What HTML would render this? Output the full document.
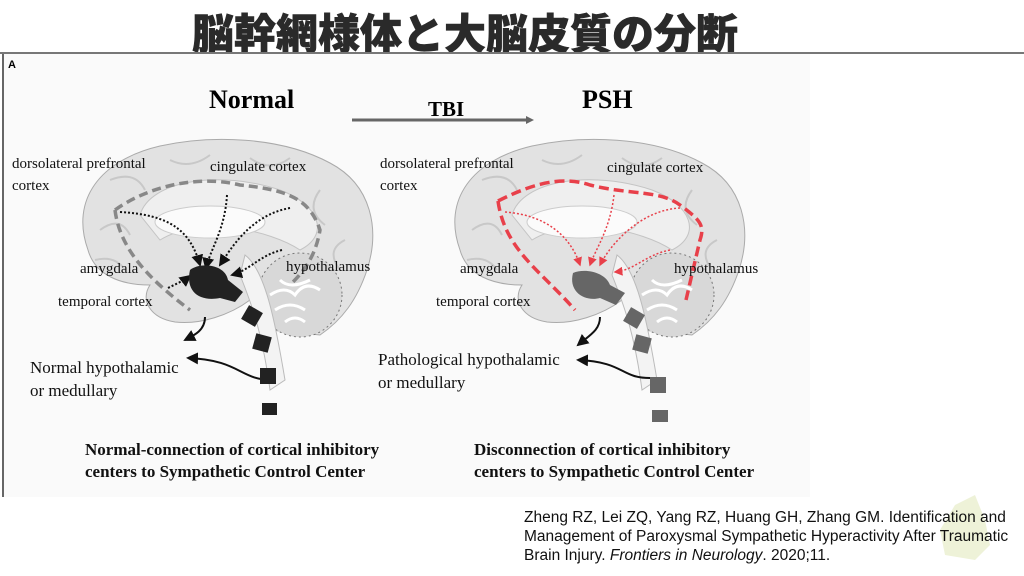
<!DOCTYPE html>
<html><head><meta charset="utf-8"><style>
body{margin:0;width:1024px;height:576px;background:#fff;overflow:hidden;position:relative;font-family:"Liberation Sans","Noto Sans CJK JP",sans-serif}
.t{position:absolute;left:0;width:930px;top:1px;text-align:center;font-size:42px;font-weight:900;color:#2a2a2a;font-family:"Liberation Sans","Noto Sans CJK JP",sans-serif;letter-spacing:0px;-webkit-text-stroke:0.6px #2a2a2a}
.cite{position:absolute;left:524px;top:508px;font-size:15.5px;line-height:19px;color:#111;width:495px}
</style></head><body>
<div class="t">脳幹網様体と大脳皮質の分断</div>
<svg width="1024" height="576" style="position:absolute;left:0;top:0" font-family="Liberation Serif, serif">
<defs>
<marker id="ab" markerWidth="6" markerHeight="6" refX="5" refY="3" orient="auto"><path d="M0,0 L6,3 L0,6Z" fill="#111"/></marker>
<marker id="ar" markerWidth="6" markerHeight="6" refX="5" refY="3" orient="auto"><path d="M0,0 L6,3 L0,6Z" fill="#e8404a"/></marker>
<g id="brain">
<path d="M88,250 C70,200 100,160 160,146 C210,135 280,136 330,163 C372,185 380,230 367,270 C357,300 342,320 320,335 L270,330 L250,300 C230,315 200,325 175,322 C150,318 140,300 150,285 C120,285 95,275 88,250Z" fill="#e2e2e2" stroke="#aaa"/>
<path d="M100,230 q20,-15 30,5 M110,180 q25,-10 35,10 M170,160 q20,10 40,-5 M250,158 q20,15 40,0 M320,190 q-15,20 5,35 M345,240 q-20,10 -5,30 M95,260 q20,-5 30,10" stroke="#c8c8c8" stroke-width="2" fill="none"/>
<path d="M140,215 C150,180 220,170 280,190 C320,205 330,235 300,250 C270,230 200,215 160,240Z" fill="#efefef" stroke="#c4c4c4"/>
<ellipse cx="210" cy="222" rx="55" ry="16" fill="#fbfbfb" stroke="#ccc"/>
<circle cx="300" cy="295" r="42" fill="#d8d8d8" stroke="#777" stroke-dasharray="2 3"/>
<path d="M270,295 q15,-10 25,0 q10,-15 25,-5 M275,310 q15,-10 30,0 M280,280 q10,10 30,0 M285,322 q10,-8 20,0" stroke="#fff" stroke-width="3" fill="none"/>
<path d="M245,255 C265,270 275,320 285,380 L270,390 C262,330 250,300 240,275Z" fill="#f3f3f3" stroke="#bbb"/>
</g>
</defs>
<rect x="0" y="52" width="1024" height="2" fill="#777"/>
<rect x="2" y="54" width="808" height="443" fill="#fafafa"/>
<rect x="2" y="54" width="2" height="443" fill="#666"/>
<text x="8" y="68" font-family="Liberation Sans, sans-serif" font-size="11" font-weight="bold">A</text>
<text x="209" y="108" font-size="26" font-weight="bold">Normal</text>
<text x="428" y="116" font-size="21" font-weight="bold">TBI</text>
<text x="582" y="108" font-size="26" font-weight="bold">PSH</text>
<line x1="352" y1="120" x2="530" y2="120" stroke="#666" stroke-width="3"/>
<path d="M526,116 L534,120 L526,124Z" fill="#666"/>

<use href="#brain"/>
<use href="#brain" x="372"/>

<g fill="none">
<path d="M115,210 C150,185 200,175 240,185 C290,190 310,200 320,230 C315,260 300,275 290,285" stroke="#888" stroke-width="3.5" stroke-dasharray="9 5"/>
<path d="M115,210 C120,250 150,280 190,310" stroke="#888" stroke-width="3.5" stroke-dasharray="9 5"/>
<g stroke="#111" stroke-width="2" stroke-dasharray="2 2" marker-end="url(#ab)">
<path d="M120,212 C170,215 190,230 200,265"/>
<path d="M227,195 C225,230 210,250 206,268"/>
<path d="M290,208 C250,215 230,250 220,265"/>
<path d="M282,250 C260,255 250,270 232,275"/>
<path d="M168,288 C180,282 185,280 190,276"/>
</g>
<path d="M205,317 C205,330 195,335 185,340" stroke="#111" stroke-width="2" marker-end="url(#ab)"/>
<path d="M272,380 C240,380 240,360 188,358" stroke="#111" stroke-width="2" marker-end="url(#ab)"/>
</g>
<path d="M190,270 C200,262 225,264 228,280 L243,292 L235,302 L220,298 C200,302 185,292 190,270Z" fill="#222"/>
<g fill="#222">
<rect x="244" y="308" width="16" height="16" transform="rotate(30 252 316)"/>
<rect x="254" y="335" width="16" height="16" transform="rotate(15 262 343)"/>
<rect x="260" y="368" width="16" height="16"/>
<rect x="262" y="403" width="15" height="12"/>
</g>

<g fill="none" stroke="#e8404a">
<path d="M498,201 C530,185 560,175 590,185 C630,195 660,190 680,205 C700,220 705,225 700,240 L686,300" stroke-width="3.5" stroke-dasharray="10 5"/>
<path d="M498,201 C505,250 540,270 575,310" stroke-width="3.5" stroke-dasharray="10 5"/>
<g stroke-width="1.5" stroke-dasharray="2 2" marker-end="url(#ar)">
<path d="M505,212 C545,215 570,235 580,265"/>
<path d="M614,195 C610,230 595,250 590,265"/>
<path d="M680,208 C640,210 610,245 600,265"/>
<path d="M670,250 C645,255 635,270 615,272"/>
</g>
</g>
<g fill="none" stroke="#111" stroke-width="2" marker-end="url(#ab)">
<path d="M600,317 C600,330 590,335 578,345"/>
<path d="M650,378 C620,378 625,362 578,360"/>
</g>
<path d="M573,273 C585,268 605,272 610,285 L625,293 L616,305 L600,298 C585,302 568,292 573,273Z" fill="#666"/>
<g fill="#666">
<rect x="626" y="310" width="16" height="16" transform="rotate(30 634 318)"/>
<rect x="634" y="336" width="16" height="16" transform="rotate(15 642 344)"/>
<rect x="650" y="377" width="16" height="16"/>
<rect x="652" y="410" width="16" height="12"/>
</g>

<g font-size="15" fill="#111">
<text x="12" y="168">dorsolateral prefrontal</text><text x="12" y="190">cortex</text>
<text x="210" y="171">cingulate cortex</text>
<text x="80" y="273">amygdala</text>
<text x="286" y="271">hypothalamus</text>
<text x="58" y="306">temporal cortex</text>
<text x="380" y="168">dorsolateral prefrontal</text><text x="380" y="190">cortex</text>
<text x="607" y="172">cingulate cortex</text>
<text x="460" y="273">amygdala</text>
<text x="674" y="273">hypothalamus</text>
<text x="436" y="306">temporal cortex</text>
</g>
<g font-size="17" fill="#111">
<text x="30" y="373">Normal hypothalamic</text><text x="30" y="396">or medullary</text>
<text x="378" y="365">Pathological hypothalamic</text><text x="378" y="388">or medullary</text>
</g>
<g font-size="17" font-weight="bold" fill="#111">
<text x="85" y="455">Normal-connection of cortical inhibitory</text>
<text x="85" y="477">centers to Sympathetic Control Center</text>
<text x="474" y="455">Disconnection of cortical inhibitory</text>
<text x="474" y="477">centers to Sympathetic Control Center</text>
</g>
<path d="M955,505 L975,495 L985,520 L990,545 L975,560 L945,555 L940,530Z" fill="#eef2d8"/>
</svg>
<div class="cite">Zheng RZ, Lei ZQ, Yang RZ, Huang GH, Zhang GM. Identification and Management of Paroxysmal Sympathetic Hyperactivity After Traumatic Brain Injury. <i>Frontiers in Neurology</i>. 2020;11.</div>
</body></html>
